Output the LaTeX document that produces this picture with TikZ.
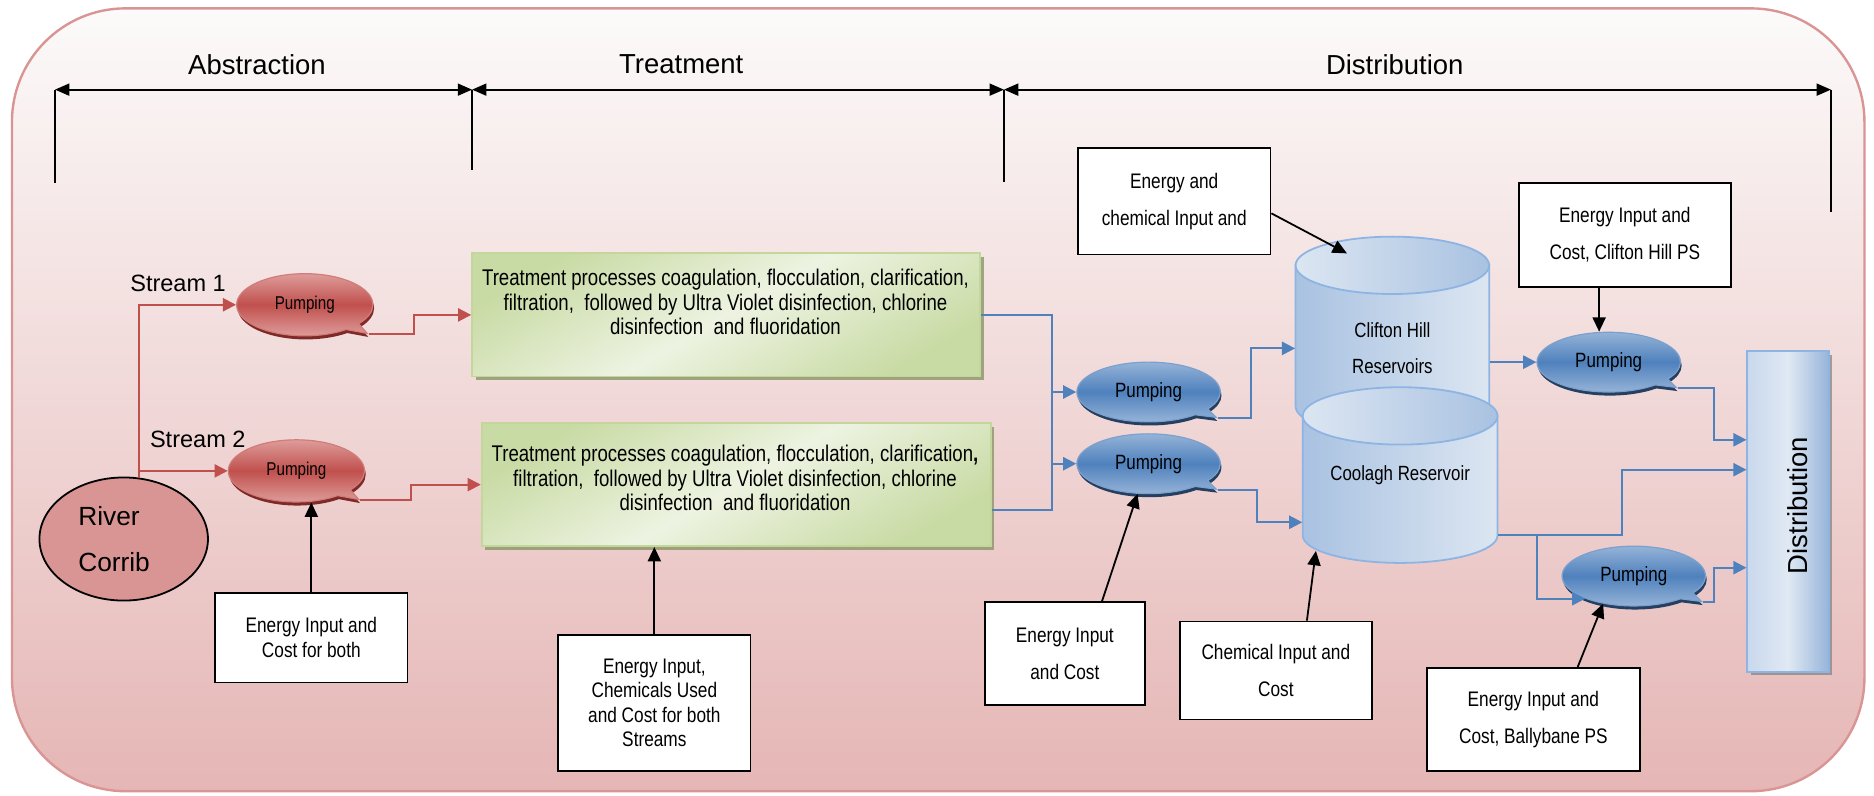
\documentclass[tikz,border=0pt]{standalone}
\usepackage{fontspec}
\setmainfont{Liberation Sans}
\newfontfamily\narrowfont{Liberation Sans}[FakeStretch=0.82]
\usetikzlibrary{arrows.meta,shapes.geometric,shapes.callouts,shadows,calc}

\definecolor{bgTop}{HTML}{FCFAFA}
\definecolor{bgBot}{HTML}{E5B6B5}
\definecolor{bgEdge}{HTML}{D99594}
\definecolor{redMain}{HTML}{C0504D}
\definecolor{redPale}{HTML}{DE9C9A}
\definecolor{redShade}{HTML}{7F2A28}
\definecolor{riverFill}{HTML}{D99594}
\definecolor{greenDark}{HTML}{C9DBA5}
\definecolor{greenPale}{HTML}{EDF3E1}
\definecolor{greenEdge}{HTML}{C3D69B}
\definecolor{greenShade}{HTML}{8A9668}
\definecolor{blueLine}{HTML}{4F81BD}
\definecolor{bluePale}{HTML}{95B3D7}
\definecolor{blueShade}{HTML}{243F60}
\definecolor{cylLight}{HTML}{DCE6F2}
\definecolor{cylMid}{HTML}{A9C2E1}
\definecolor{cylEdge}{HTML}{8EB4E3}
\definecolor{distL}{HTML}{C9D8EC}
\definecolor{distM}{HTML}{E0E9F4}
\definecolor{distR}{HTML}{97B5D9}

\tikzset{every picture/.style={line width=0.75pt}}
\tikzset{
  flowtip/.style={-{Triangle[length=11pt,width=11pt]}},
  redflow/.style={draw=redMain, line width=1.6pt, flowtip},
  blueflow/.style={draw=blueLine, line width=1.8pt, flowtip},
  bluepipe/.style={draw=blueLine, line width=1.8pt},
  inflow/.style={draw=black, line width=1.5pt, -{Triangle[length=12pt,width=11pt]}},
  dimline/.style={draw=black, line width=1.6pt, {Triangle[length=12pt,width=10pt]}-{Triangle[length=12pt,width=10pt]}},
  dimtick/.style={draw=black, line width=1.6pt},
  bgframe/.style={rounded corners=95pt, top color=bgTop, bottom color=bgBot, draw=bgEdge, line width=2pt},
  stagelbl/.style={inner sep=0pt, font=\fontsize{23}{27}\selectfont},
  streamlbl/.style={inner sep=0pt, font=\fontsize{19.7}{23}\selectfont},
  riverstyle/.style={ellipse, draw=black, line width=1.5pt, fill=riverFill, minimum width=141pt, minimum height=103pt, text width=76pt, align=left, font=\fontsize{22}{38}\selectfont},
  redpump/.style={ellipse callout, callout relative pointer={(12pt,-5.5pt)}, minimum width=114pt, minimum height=52pt, inner sep=0pt, draw=redMain!75!white, line width=1pt, top color=redPale, bottom color=redPale, middle color=redMain, drop shadow={shadow xshift=1pt, shadow yshift=-3pt, fill=redShade, opacity=1}, font=\narrowfont\fontsize{15.5}{18}\selectfont},
  bluepump/.style={ellipse callout, callout relative pointer={(12pt,-4.5pt)}, minimum width=120pt, minimum height=50pt, inner sep=0pt, draw=blueLine!75!white, line width=1pt, top color=bluePale, bottom color=bluePale, middle color=blueLine, drop shadow={shadow xshift=1pt, shadow yshift=-3pt, fill=blueShade, opacity=1}, font=\narrowfont\fontsize{17.3}{20}\selectfont},
  treatbox/.style={rectangle, draw=greenEdge, line width=1.5pt, minimum width=425pt, minimum height=103pt, top color=greenDark, bottom color=greenDark, middle color=greenPale, shading angle=30, drop shadow={shadow xshift=3pt, shadow yshift=-3pt, fill=greenShade, opacity=.8}},
  treattext/.style={align=center, inner sep=0pt, font=\narrowfont\fontsize{19}{20.5}\selectfont},
  infobox/.style={rectangle, draw=black, fill=white, line width=1.5pt, align=center, inner sep=0pt, font=\narrowfont\fontsize{17.6}{30.5}\selectfont},
  infotight/.style={infobox, font=\narrowfont\fontsize{17.6}{20.5}\selectfont},
  cylbody/.style={left color=cylMid, right color=cylLight, draw=cylEdge, line width=1.5pt},
  cyltop/.style={left color=cylLight, right color=cylMid, draw=cylEdge, line width=1.5pt},
  reslbl/.style={align=center, inner sep=0pt, font=\narrowfont\fontsize{17.2}{30}\selectfont},
  distbar/.style={rectangle, draw=cylEdge, line width=1.5pt, minimum width=68pt, minimum height=268pt, left color=distL, right color=distR, middle color=distM, drop shadow={shadow xshift=3pt, shadow yshift=-3pt, fill=gray, opacity=.7}},
  distlbl/.style={rotate=90, inner sep=0pt, font=\fontsize{23}{27}\selectfont},
}

\begin{document}
\begin{tikzpicture}[x=1pt,y=1pt,yscale=-1,xscale=1]
	\useasboundingbox (0,0) rectangle (1568,666);

	%Shape: Rounded Rect [background]
	\path [bgframe] (10,7) rectangle (1560,662) ;

	%Straight Lines [stages]
	\coordinate (d0) at (46,75);
	\coordinate (d1) at (395,75);
	\coordinate (d2) at (840,75);
	\coordinate (d3) at (1532,75);
	\draw [dimline] (d0) -- (d1) ;
	\draw [dimline] (d1) -- (d2) ;
	\draw [dimline] (d2) -- (d3) ;
	\draw [dimtick] (d0) -- ++(0,78) ;
	\draw [dimtick] (d1) -- ++(0,67) ;
	\draw [dimtick] (d2) -- ++(0,77) ;
	\draw [dimtick] (d3) -- ++(0,102) ;

	% Text Node
	\node [stagelbl] (abs) at (215,54) {Abstraction};
	% Text Node
	\node [stagelbl] (trt) at (570,54) {Treatment};
	% Text Node
	\node [stagelbl] (dst) at (1167,54) {Distribution};

	%Shape: Ellipse [river]
	\node [riverstyle] (river) at (103.5,451) {River\\Corrib};
	% Text Node
	\node [streamlbl] (s1) at (149,237) {Stream 1};
	% Text Node
	\node [streamlbl] (s2) at (165.5,368) {Stream 2};

	%Shape: Callout [pumps]
	\node [redpump] (rp1) at (255,255) {Pumping};
	\node [redpump] (rp2) at (248,394) {Pumping};
	\node [bluepump] (bp1) at (961,328) {Pumping};
	\node [bluepump] (bp2) at (961,388) {Pumping};
	\node [bluepump] (bp3) at (1346,303) {Pumping};
	\node [bluepump] (bp4) at (1367,482) {Pumping};

	%Shape: Rectangle [treatment]
	\node [treatbox] (t1) at (607.5,263.5) {};
	\node [treattext] (t1txt) at (607,253) {Treatment processes coagulation, flocculation, clarification,\\filtration,\ \ followed by Ultra Violet disinfection, chlorine\\disinfection\ \ and fluoridation};
	\node [treatbox, minimum width=426pt] (t2) at (616,405.5) {};
	\node [treattext] (t2txt) at (615,400) {Treatment processes coagulation, flocculation, clarification{\bfseries ,}\\filtration,\ \ followed by Ultra Violet disinfection, chlorine\\disinfection\ \ and fluoridation};

	%Shape: Can [Clifton Hill]
	\path [cylbody] (1084,222) -- (1084,340) arc [start angle=180, end angle=0, x radius=81, y radius=24] -- (1246,222) -- cycle ;
	\path [cyltop] (1165,222) ellipse [x radius=81, y radius=24] ;
	\node [reslbl, minimum width=162pt, minimum height=190pt] (chr) at (1165,291.5) {Clifton Hill\\Reservoirs};
	%Shape: Can [Coolagh]
	\path [cylbody] (1090,348) -- (1090,448) arc [start angle=180, end angle=0, x radius=81.5, y radius=23] -- (1253,348) -- cycle ;
	\path [cyltop] (1171.5,348) ellipse [x radius=81.5, y radius=24] ;
	\node [reslbl, minimum width=163pt, minimum height=148pt] (col) at (1171.5,398) {Coolagh Reservoir};
	\coordinate (chrtop) at (1127,212);
	\coordinate (colbase) at (1101,461);

	%Shape: Rectangle [distribution]
	\node [distbar] (dist) at (1496,428) {};
	\node [distlbl] (distname) at (1504,423) {Distribution};

	%Shape: Rectangle [inputs]
	\node [infotight, minimum width=161pt, minimum height=75pt] (e1) at (260.5,533.5) {Energy Input and\\Cost for both};
	\node [infotight, minimum width=161pt, minimum height=114pt] (e2) at (547.5,588) {Energy Input,\\Chemicals Used\\and Cost for both\\Streams};
	\node [infobox, minimum width=134pt, minimum height=86pt] (e3) at (891,547) {Energy Input\\and Cost};
	\node [infobox, minimum width=161pt, minimum height=82pt] (e4) at (1067.5,561) {Chemical Input and\\Cost};
	\node [infobox, minimum width=178pt, minimum height=86pt] (e5) at (1283,602) {Energy Input and\\Cost, Ballybane PS};
	\node [infobox, minimum width=161pt, minimum height=89pt] (e6) at (982.5,168.5) {Energy and\\chemical Input and};
	\node [infobox, minimum width=177pt, minimum height=87pt] (e7) at (1359.5,196.5) {Energy Input and\\Cost, Clifton Hill PS};

	%Straight Lines [abstraction]
	\draw [redflow] (river.76) |- (rp1.west) ;
	\draw [redflow] (river.76 |- rp2.west) -- (rp2.west) ;
	\draw [redflow] (rp1.pointer) -- ++(38,0) |- (t1.west) ;
	\draw [redflow] (rp2.pointer) -- ++(42,0) |- (t2.west) ;

	%Straight Lines [distribution]
	\coordinate (bus) at (880,345);
	\coordinate (t2out) at ($(t2.east)+(0,21.5)$);
	\draw [bluepipe] (t1.east) -- (t1.east -| bus) -- (bus |- t2out) -- (t2out) ;
	\draw [blueflow] (bus |- bp1.west) -- (bp1.west) ;
	\draw [blueflow] (bus |- bp2.west) -- (bp2.west) ;
	\draw [blueflow] (bp1.pointer) -- ++(28,0) |- (chr.west) ;
	\coordinate (colin) at ($(col.west)+(0,39)$);
	\draw [blueflow] (bp2.pointer) -- ++(33,0) |- (colin) ;
	\draw [blueflow] (chr.east |- bp3.west) -- (bp3.west) ;
	\coordinate (din1) at ($(dist.west)+(0,-60)$);
	\coordinate (din2) at ($(dist.west)+(0,-35)$);
	\coordinate (din3) at ($(dist.west)+(0,47)$);
	\draw [blueflow] (bp3.pointer) -- ++(30,0) |- (din1) ;
	\coordinate (colout) at ($(col.east)+(0,49.5)$);
	\coordinate (jog) at (1357,420);
	\coordinate (split) at (1286,470);
	\draw [blueflow] (colout) -- (colout -| jog) |- (din2) ;
	\draw [blueflow] (colout -| split) |- (bp4.205) ;
	\draw [blueflow] (bp4.pointer) -- ++(9,0) |- (din3) ;

	%Straight Lines [inputs]
	\draw [inflow] (e1.north) -- (e1.north |- rp2.south) ;
	\draw [inflow] (e2.north) -- (e2.north |- t2.south) ;
	\draw [inflow] ($(e3.north)+(31,0)$) -- (bp2.250) ;
	\draw [inflow] ($(e4.north)+(26,0)$) -- (colbase) ;
	\draw [inflow] ($(e5.north)+(37,0)$) -- (bp4.222) ;
	\draw [inflow] ($(e6.east)+(0,10)$) -- (chrtop) ;
	\coordinate (bp3top) at ($(bp3.north)+(-8,0)$);
	\draw [inflow] (bp3top |- e7.south) -- (bp3top) ;

\end{tikzpicture}
\end{document}
